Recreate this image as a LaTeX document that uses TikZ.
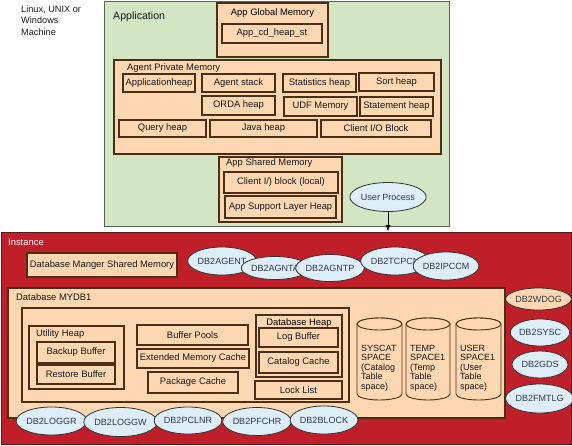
\documentclass[tikz,border=0pt]{standalone}
\usepackage{fontspec}
\setmainfont{Liberation Sans}
\usetikzlibrary{arrows.meta,positioning,shapes.geometric}
\definecolor{appgreen}{HTML}{D3E6C4}
\definecolor{appedge}{HTML}{56634F}
\definecolor{mempeach}{HTML}{FCD7B2}
\definecolor{memedge}{HTML}{4A2F16}
\definecolor{instred}{HTML}{C01F2A}
\definecolor{instedge}{HTML}{5A1A1A}
\definecolor{procblue}{HTML}{DDEEF8}
\definecolor{proctext}{HTML}{2F3B4A}

\begin{document}
\begin{tikzpicture}[x=1pt,y=-1pt,>=Latex,font=\fontsize{9.4}{11}\selectfont]

\tikzset{
appbox/.style={
    draw=appedge,
    line width=1pt,
    fill=appgreen,
    inner sep=0pt
},
instbox/.style={
    draw=instedge,
    line width=0.8pt,
    fill=instred,
    inner sep=0pt
},
box/.style={
    draw=memedge,
    line width=1.15pt,
    fill=mempeach,
    inner sep=0pt,
    text=black!90
},
proc/.style={
    ellipse,
    draw=black!80,
    line width=0.8pt,
    fill=procblue,
    inner sep=0pt,
    minimum width=57pt,
    minimum height=27pt,
    text=proctext,
    font=\fontsize{9}{10}\selectfont
},
disk/.style={
    draw=memedge,
    line width=0.9pt,
    fill=mempeach
},
tag/.style={anchor=west,inner sep=0pt,text=black!90}
}

\useasboundingbox (0,0) rectangle (572,445);

% machine
\node[tag, align=left, font=\fontsize{9.2}{11.5}\selectfont] (machine) at (21,20.5) {Linux, UNIX or\\Windows\\Machine};

% application side
\node[appbox, minimum width=345, minimum height=225] (app) at (276.5,113.5) {};
\node[tag, font=\fontsize{10.6}{12}\selectfont] (applbl) at (113,17) {Application};

\node[box, minimum width=111, minimum height=54] (global) at (272.5,30) {};
\node[inner sep=0pt] (globallbl) at (272.5,13) {App Global Memory};
\node[box, minimum width=100, minimum height=19] (cdheap) at (272,33.5) {App\_cd\_heap\_st};

\node[box, minimum width=327, minimum height=94] (agent) at (277.5,107) {};
\node[tag] (agentlbl) at (127,68) {Agent Private Memory};
\node[box, minimum width=72, minimum height=18] (appheap) at (159,83) {Applicationheap};
\node[box, minimum width=73, minimum height=18] (stack) at (238.5,83) {Agent stack};
\node[box, minimum width=73, minimum height=18] (stats) at (319.5,83) {Statistics heap};
\node[box, minimum width=75, minimum height=18] (sort) at (396.5,82) {Sort heap};
\node[box, minimum width=73, minimum height=19] (orda) at (238.5,105.5) {ORDA heap};
\node[box, minimum width=73, minimum height=19] (udf) at (320.5,106.5) {UDF Memory};
\node[box, minimum width=73, minimum height=19] (stmt) at (396.5,106.5) {Statement heap};
\node[box, minimum width=87, minimum height=17] (query) at (162.5,128.5) {Query heap};
\node[box, minimum width=107, minimum height=17] (java) at (263.5,128.5) {Java heap};
\node[box, minimum width=110, minimum height=17] (clientio) at (376,128.5) {Client I/O Block};

\node[box, minimum width=123, minimum height=65] (shared) at (280.5,189.5) {};
\node[tag] (sharedlbl) at (226,163) {App Shared Memory};
\node[box, minimum width=114, minimum height=21] (clientlocal) at (281,182.5) {Client I/) block (local)};
\node[box, minimum width=111, minimum height=22] (support) at (280.5,207) {App Support Layer Heap};

\node[proc, minimum width=65pt, minimum height=29pt] (user) at (388,197) {User Process};

% instance side
\node[instbox, minimum width=570, minimum height=212] (inst) at (286,338) {};
\node[tag, text=white] (instlbl) at (8,242) {Instance};
\node[box, minimum width=150, minimum height=24] (dbmgr) at (102,265) {Database Manger Shared Memory};

\node[proc, minimum width=60pt, minimum height=28pt] (agent0) at (222,261) {DB2AGENT};
\node[proc, minimum width=57pt, minimum height=23pt] (agnta) at (275,268) {DB2AGNTA};
\node[proc, minimum width=56pt, minimum height=27pt] (agntp) at (330,268) {DB2AGNTP};
\node[proc, minimum width=56pt, minimum height=28pt] (tcpcm) at (395,261) {DB2TCPCN};
\node[proc, minimum width=58pt, minimum height=28pt] (ipccm) at (446,266) {DB2IPCCM};

\node[proc, fill=mempeach, minimum height=22pt] (wdog) at (538.5,299) {DB2WDOG};
\node[proc, minimum width=54pt] (sysc) at (540,332.5) {DB2SYSC};
\node[proc, minimum width=56pt] (gds) at (540,364.5) {DB2GDS};
\node[proc, minimum height=29pt] (fmtlg) at (539.5,398.5) {DB2FMTLG};

\node[box, minimum width=497, minimum height=130] (mydb) at (256.5,353) {};
\node[tag] (mydblbl) at (16,297) {Database MYDB1};
\node[box, minimum width=327, minimum height=94] (dbshared) at (185.5,355) {};

\node[box, minimum width=95, minimum height=63] (utility) at (76.5,357.5) {};
\node[tag] (utilitylbl) at (36,334) {Utility Heap};
\node[box, minimum width=78, minimum height=21] (backup) at (76,352.5) {Backup Buffer};
\node[box, minimum width=78, minimum height=19] (restore) at (76,374.5) {Restore Buffer};

\node[box, minimum width=111, minimum height=20] (pools) at (192.5,335) {Buffer Pools};
\node[box, minimum width=112, minimum height=19] (extcache) at (193,358.5) {Extended Memory Cache};
\node[box, minimum width=90, minimum height=21] (pkgcache) at (193,382.5) {Package Cache};

\node[box, minimum width=86, minimum height=62] (dbheap) at (299,346) {};
\node[inner sep=0pt] (dbheaplbl) at (299,323) {Database Heap};
\node[box, minimum width=79, minimum height=19] (logbuf) at (298.5,337.5) {Log Buffer};
\node[box, minimum width=79, minimum height=21] (catcache) at (298.5,362.5) {Catalog Cache};
\node[box, minimum width=87, minimum height=18] (locks) at (298.5,390) {Lock List};

% table spaces
\draw[disk] (357,324) -- (357,394) arc[start angle=180, end angle=0, x radius=22.5, y radius=6] -- (402,324) arc[start angle=0, end angle=-180, x radius=22.5, y radius=6] -- cycle;
\draw[disk] (379.5,324) ellipse[x radius=22.5, y radius=6];
\node[tag, align=left, font=\fontsize{9}{9.5}\selectfont] (syscattxt) at (361,368) {SYSCAT\\SPACE\\(Catalog\\Table\\space)};
\draw[disk] (406,324) -- (406,394) arc[start angle=180, end angle=0, x radius=22, y radius=6] -- (450,324) arc[start angle=0, end angle=-180, x radius=22, y radius=6] -- cycle;
\draw[disk] (428,324) ellipse[x radius=22, y radius=6];
\node[tag, align=left, font=\fontsize{9}{9.5}\selectfont] (temptxt) at (410,368) {TEMP\\SPACE1\\(Temp\\Table\\space)};
\draw[disk] (456,324) -- (456,394) arc[start angle=180, end angle=0, x radius=22.5, y radius=6] -- (501,324) arc[start angle=0, end angle=-180, x radius=22.5, y radius=6] -- cycle;
\draw[disk] (478.5,324) ellipse[x radius=22.5, y radius=6];
\node[tag, align=left, font=\fontsize{9}{9.5}\selectfont] (usertxt) at (460,368) {USER\\SPACE1\\(User\\Table\\space)};

\node[proc, minimum height=28pt] (loggr) at (51.5,421) {DB2LOGGR};
\node[proc, minimum width=59pt, minimum height=29pt] (loggw) at (120.5,422) {DB2LOGGW};
\node[proc, minimum width=58pt] (pclnr) at (188,420.5) {DB2PCLNR};
\node[proc, minimum width=58pt, minimum height=28pt] (pfchr) at (257,421.5) {DB2PFCHR};
\node[proc, minimum width=58pt, minimum height=28pt] (block) at (324,420) {DB2BLOCK};

\draw[->, black, line width=0.8pt] (user.south) -- (user.south |- inst.north);

\end{tikzpicture}
\end{document}
